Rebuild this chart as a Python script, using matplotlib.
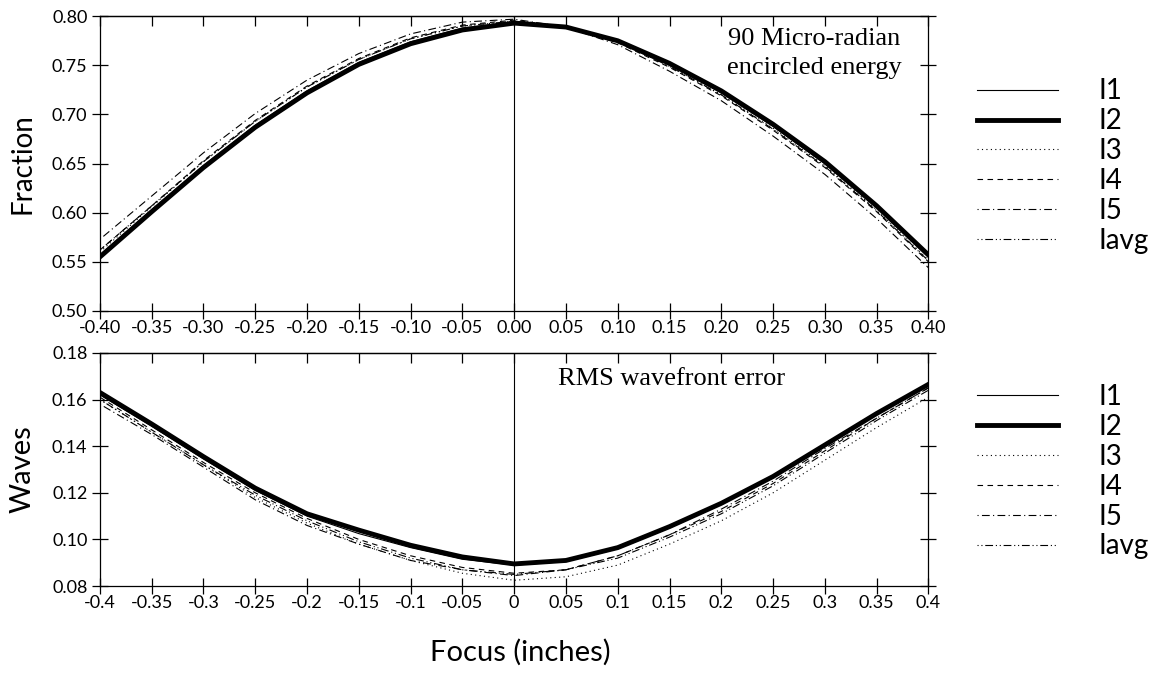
import matplotlib.pyplot as plt
import matplotlib as mpl

mpl.rcParams['font.family'] = ['Lato', 'DejaVu Sans']

# data
focus = [-0.40, -0.35, -0.30, -0.25, -0.20, -0.15, -0.10, -0.05, 0.00,
         0.05, 0.10, 0.15, 0.20, 0.25, 0.30, 0.35, 0.40]
labels = ['I1', 'I2', 'I3', 'I4', 'I5', 'Iavg']

# 90 micro-radian encircled energy (fraction)
ee_i1 = [0.557, 0.603, 0.648, 0.689, 0.724, 0.753, 0.774, 0.788, 0.794,
         0.789, 0.775, 0.751, 0.722, 0.688, 0.650, 0.605, 0.555]
ee_i2 = [0.555, 0.601, 0.646, 0.687, 0.722, 0.751, 0.772, 0.786, 0.793,
         0.789, 0.775, 0.752, 0.724, 0.690, 0.652, 0.607, 0.557]
ee_i3 = [0.560, 0.606, 0.652, 0.693, 0.728, 0.756, 0.777, 0.790, 0.795,
         0.789, 0.774, 0.749, 0.720, 0.686, 0.648, 0.603, 0.552]
ee_i4 = [0.562, 0.607, 0.653, 0.694, 0.729, 0.757, 0.778, 0.791, 0.796,
         0.789, 0.773, 0.748, 0.719, 0.684, 0.646, 0.601, 0.550]
ee_i5 = [0.573, 0.617, 0.661, 0.701, 0.735, 0.762, 0.782, 0.794, 0.797,
         0.789, 0.771, 0.744, 0.714, 0.678, 0.639, 0.594, 0.544]
ee_avg = [0.562, 0.607, 0.652, 0.693, 0.728, 0.756, 0.777, 0.790, 0.795,
          0.789, 0.774, 0.749, 0.720, 0.685, 0.647, 0.602, 0.551]

# RMS wavefront error (waves)
rms_i1 = [0.162, 0.1485, 0.1345, 0.121, 0.110, 0.1025, 0.0965, 0.0915, 0.089,
          0.0905, 0.096, 0.105, 0.115, 0.1265, 0.140, 0.1535, 0.166]
rms_i2 = [0.163, 0.1495, 0.1355, 0.122, 0.111, 0.104, 0.0975, 0.0925, 0.0895,
          0.091, 0.0965, 0.1055, 0.1155, 0.127, 0.1405, 0.154, 0.1665]
rms_i3 = [0.160, 0.146, 0.132, 0.118, 0.107, 0.098, 0.091, 0.0855, 0.0825,
          0.084, 0.089, 0.098, 0.108, 0.120, 0.134, 0.148, 0.161]
rms_i4 = [0.161, 0.147, 0.133, 0.120, 0.109, 0.100, 0.093, 0.088, 0.0855,
          0.087, 0.093, 0.102, 0.112, 0.124, 0.138, 0.152, 0.165]
rms_i5 = [0.158, 0.145, 0.131, 0.117, 0.106, 0.098, 0.091, 0.087, 0.0845,
          0.087, 0.093, 0.102, 0.113, 0.125, 0.139, 0.152, 0.165]
rms_avg = [0.160, 0.146, 0.132, 0.119, 0.108, 0.099, 0.092, 0.087, 0.085,
           0.087, 0.092, 0.101, 0.111, 0.123, 0.137, 0.151, 0.164]

styles = [
    dict(ls='-', lw=0.8),
    dict(ls='-', lw=3.5),
    dict(ls=(0, (1, 3)), lw=0.8),
    dict(ls=(0, (5, 4)), lw=0.8),
    dict(ls=(0, (1, 3, 7, 3)), lw=0.8),
    dict(ls=(0, (1, 2.5, 1, 2.5, 7, 2.5)), lw=0.8),
]

fig = plt.figure(figsize=(11.62, 6.76), dpi=100)
ax1 = fig.add_axes([0.086, 0.540, 0.713, 0.436])
ax2 = fig.add_axes([0.086, 0.133, 0.713, 0.345])


def style_axes(ax):
    ax.axvline(0, color='black', lw=0.8)
    ax.set_xlim(-0.4, 0.4)
    ax.set_xticks(focus)
    ax.tick_params(axis='both', which='major', direction='inout', length=11,
                   width=0.9, labelsize=13, colors='black')
    ax.tick_params(top=False, right=True)
    ax.tick_params(axis='x', which='major', pad=1)
    top = ax.secondary_xaxis('top')
    top.set_xticks(focus)
    top.tick_params(direction='in', length=7, width=0.9, labeltop=False)
    for s in list(ax.spines.values()) + list(top.spines.values()):
        s.set_linewidth(0.9)


for ys, lab, st in zip([ee_i1, ee_i2, ee_i3, ee_i4, ee_i5, ee_avg], labels, styles):
    ax1.plot(focus, ys, color='black', label=lab, **st)
style_axes(ax1)
ax1.set_ylim(0.50, 0.80)
ax1.set_yticks([0.50, 0.55, 0.60, 0.65, 0.70, 0.75, 0.80])
ax1.set_yticklabels(['0.50', '0.55', '0.60', '0.65', '0.70', '0.75', '0.80'])
ax1.set_xticklabels(['%.2f' % v for v in focus])
ax1.set_ylabel('Fraction', fontsize=20, labelpad=12)
ax1.text(0.29, 0.7414, '90 Micro-radian\nencircled energy', ha='center',
         va='baseline', fontsize=19, family='Liberation Serif', linespacing=1.38)

for ys, lab, st in zip([rms_i1, rms_i2, rms_i3, rms_i4, rms_i5, rms_avg], labels, styles):
    ax2.plot(focus, ys, color='black', label=lab, **st)
style_axes(ax2)
ax2.set_ylim(0.08, 0.18)
ax2.set_yticks([0.08, 0.10, 0.12, 0.14, 0.16, 0.18])
ax2.set_yticklabels(['0.08', '0.10', '0.12', '0.14', '0.16', '0.18'])
ax2.set_xticklabels(['%g' % round(v, 2) if v != 0 else '0' for v in focus])
ax2.set_ylabel('Waves', fontsize=21, labelpad=12)
ax2.text(0.042, 0.1663, 'RMS wavefront error', ha='left', va='baseline',
         fontsize=19, family='Liberation Serif')

fig.text(0.4475, 0.035, 'Focus (inches)', ha='center', va='center', fontsize=21)

leg_kw = dict(frameon=False, fontsize=20, handlelength=2.9, handletextpad=1.45,
              labelspacing=0.14, borderpad=0, borderaxespad=0, loc='upper left')
fig.legend(*ax1.get_legend_handles_labels(), bbox_to_anchor=(0.841, 0.884), **leg_kw)
fig.legend(*ax2.get_legend_handles_labels(), bbox_to_anchor=(0.841, 0.432), **leg_kw)

fig.savefig('out.png', dpi=100)
